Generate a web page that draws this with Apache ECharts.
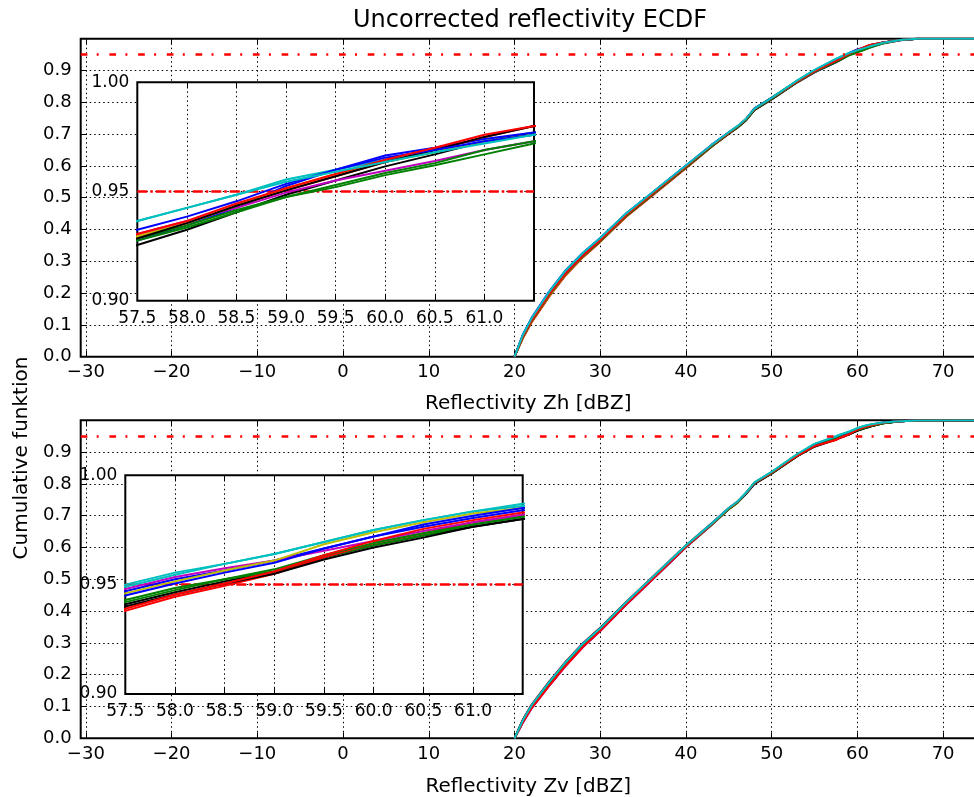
<!DOCTYPE html>
<html>
<head>
<meta charset="utf-8">
<title>Uncorrected reflectivity ECDF</title>
<script src="https://cdn.jsdelivr.net/npm/echarts@6/dist/echarts.min.js"></script>
<style>
  html, body { margin: 0; padding: 0; background: #fff; }
  #chart { width: 974px; height: 797px; }
</style>
</head>
<body>
<div id="chart"></div>
<script>
// reflectivity bins (dBZ) shared by every ECDF curve
const dbzBins = [20, 21, 22, 24, 26, 28, 30, 33, 36, 40, 43, 45, 46, 47, 48, 50, 53, 55,
                 57.5, 58, 58.5, 59, 59.5, 60, 60.5, 61, 61.5, 63, 65, 67, 74];

// ECDF values, horizontal reflectivity Zh
const zh01 = [0, .061,.110,.189,.259,.314,.362, .441,.507,.594,.661,.701,.720,.744,.776,.809,.863,.894, .9255,.9325,.9405,.9485,.955,.9615,.967,.973,.977, .987,.996,.9995, 1];
const zh02 = [0, .071,.122,.203,.273,.327,.373, .450,.514,.601,.666,.706,.724,.747,.779,.812,.865,.896, .9275,.9345,.9425,.9525,.960,.9665,.970,.974,.977, .988,.996,.9995, 1];
const zh03 = [0, .067,.118,.198,.269,.324,.371, .448,.513,.599,.664,.703,.722,.746,.781,.815,.868,.899, .9285,.9345,.9415,.9475,.952,.9575,.962,.967,.972, .985,.995,.9995, 1];
const zh04 = [0, .059,.108,.187,.257,.313,.361, .439,.505,.593,.660,.701,.721,.745,.777,.811,.866,.899, .9295,.9355,.9435,.9505,.957,.9635,.969,.975,.980, .988,.996,.9995, 1];
const zh05 = [0, .068,.119,.200,.270,.325,.371, .448,.512,.599,.665,.704,.723,.745,.778,.813,.868,.901, .9365,.9425,.9485,.9555,.960,.9645,.968,.973,.976, .987,.996,.9995, 1];
const zh06 = [0, .064,.113,.193,.262,.317,.364, .443,.508,.596,.662,.702,.722,.744,.777,.810,.864,.895, .9305,.9365,.9425,.9495,.955,.9595,.964,.969,.973, .986,.995,.9995, 1];
const zh07 = [0, .062,.111,.190,.260,.315,.363, .442,.508,.596,.663,.704,.723,.745,.777,.812,.866,.897, .9295,.9355,.9435,.9515,.958,.9635,.968,.973,.976, .987,.996,.9995, 1];
const zh08 = [0, .066,.116,.197,.267,.322,.369, .446,.511,.597,.663,.702,.721,.743,.776,.810,.865,.898, .9285,.9355,.9435,.9505,.957,.9635,.969,.975,.980, .988,.996,.9995, 1];
const zh09 = [0, .069,.120,.201,.271,.326,.372, .449,.514,.600,.666,.705,.724,.747,.781,.814,.867,.898, .9325,.9385,.9455,.9535,.960,.9655,.969,.973,.976, .987,.996,.9995, 1];
const zh10 = [0, .063,.112,.192,.261,.316,.363, .442,.507,.595,.661,.702,.721,.744,.778,.811,.864,.896, .9275,.9335,.9405,.9475,.953,.9585,.963,.969,.973, .986,.996,.9995, 1];
const zh11 = [0, .065,.114,.194,.263,.318,.366, .445,.510,.598,.664,.704,.724,.747,.779,.813,.866,.898, .9305,.9365,.9445,.9515,.958,.9645,.970,.976,.980, .988,.996,.9995, 1];
const zh12 = [0, .070,.121,.202,.272,.327,.373, .450,.515,.601,.666,.706,.725,.748,.780,.814,.869,.902, .9365,.9425,.9485,.9545,.959,.9635,.968,.972,.976, .987,.996,.9995, 1];

// ECDF values, vertical reflectivity Zv
const zv01 = [0, .052,.096,.165,.230,.289,.338, .420,.497,.601,.671,.721,.741,.770,.801,.834,.888,.919, .941,.9465,.9515,.956,.9625,.968,.9725,.9765,.980, .991,.997,.9995, 1];
const zv02 = [0, .059,.105,.176,.241,.299,.347, .427,.503,.605,.675,.723,.743,.771,.802,.836,.892,.923, .947,.9525,.9565,.961,.9665,.972,.9765,.9805,.984, .992,.997,.9995, 1];
const zv03 = [0, .054,.098,.168,.232,.290,.340, .421,.499,.603,.673,.722,.743,.771,.804,.836,.890,.920, .942,.9475,.9525,.956,.9625,.968,.9725,.9775,.981, .991,.997,.9995, 1];
const zv04 = [0, .060,.106,.177,.242,.299,.348, .428,.505,.607,.676,.724,.744,.771,.802,.834,.888,.918, .938,.9445,.9495,.955,.9625,.969,.9735,.9785,.982, .992,.997,.9995, 1];
const zv05 = [0, .057,.102,.173,.238,.296,.345, .426,.503,.606,.676,.724,.744,.772,.804,.838,.894,.926, .950,.9555,.9595,.964,.9695,.975,.9795,.9835,.986, .993,.997,.9995, 1];
const zv06 = [0, .050,.094,.163,.228,.287,.337, .419,.497,.601,.672,.722,.742,.769,.801,.835,.891,.923, .948,.9535,.9575,.961,.9655,.970,.9745,.9785,.982, .992,.997,.9995, 1];
const zv07 = [0, .055,.100,.171,.236,.294,.343, .423,.500,.602,.672,.720,.740,.769,.803,.837,.893,.924, .946,.9515,.9565,.961,.9685,.974,.9785,.9825,.985, .993,.997,.9995, 1];
const zv08 = [0, .058,.103,.174,.239,.297,.346, .426,.502,.604,.673,.721,.741,.768,.800,.832,.887,.917, .940,.9455,.9505,.955,.9615,.967,.9715,.9765,.980, .991,.997,.9995, 1];
const zv09 = [0, .053,.097,.166,.231,.289,.339, .421,.499,.603,.674,.723,.743,.770,.802,.836,.892,.923, .945,.9505,.9555,.960,.9665,.972,.9775,.9815,.985, .993,.997,.9995, 1];
const zv10 = [0, .056,.101,.172,.237,.295,.344, .424,.501,.603,.673,.721,.741,.770,.802,.834,.889,.919, .943,.9485,.9525,.957,.9635,.969,.9735,.9775,.981, .991,.997,.9995, 1];
const zv11 = [0, .051,.095,.164,.229,.288,.338, .420,.498,.602,.673,.723,.743,.771,.803,.835,.889,.919, .939,.9455,.9505,.956,.9635,.970,.9755,.9795,.983, .992,.997,.9995, 1];
const zv12 = [0, .058,.104,.175,.240,.298,.346, .427,.504,.606,.675,.724,.744,.772,.805,.838,.894,.926, .949,.9545,.9595,.964,.9695,.975,.9795,.9835,.987, .993,.997,.9995, 1];

const zhCurves = [zh01, zh02, zh03, zh04, zh05, zh06, zh07, zh08, zh09, zh10, zh11, zh12];
const zvCurves = [zv01, zv02, zv03, zv04, zv05, zv06, zv07, zv08, zv09, zv10, zv11, zv12];

const threshold = 0.95;
const mainX = [-30.6, 73.8];
const insetX = [57.5, 61.5];
const insetY = [0.90, 1.00];

// matplotlib classic colour cycle (k, b, g, r, c, m, y order so the last drawn is cyan)
const colors = ['#000000', '#0000ff', '#008000', '#ff0000', '#00bfbf', '#bf00bf', '#bfbf00'];
const FONT = 'DejaVu Sans';
const dotted = { color: '#000', width: 1, type: [1.5, 3] };
const minus = s => String(s).replace('-', '\u2212');
const tick = { inside: true, length: 6, lineStyle: { color: '#000' } };
const noLine = { show: false, onZero: false };

const chart = echarts.init(document.getElementById('chart'));

function grids() {
  const common = { show: true, borderColor: '#000', borderWidth: 2, outerBoundsMode: 'none', containLabel: false };
  return [
    Object.assign({ left: 80.7, top: 38.7, width: 895, height: 318, z: 0 }, common),
    Object.assign({ left: 137.3, top: 82.3, width: 396.7, height: 218.4, z: 3, backgroundColor: '#fff' }, common),
    Object.assign({ left: 80.7, top: 420.3, width: 895, height: 318, z: 0 }, common),
    Object.assign({ left: 125.3, top: 475.3, width: 397.4, height: 218.7, z: 3, backgroundColor: '#fff' }, common)
  ];
}

function mainXAxes(g, name, gap) {
  return [{
    type: 'value', gridIndex: g, min: mainX[0], max: mainX[1],
    minInterval: 10, maxInterval: 10, splitNumber: 10,
    axisLine: noLine, axisTick: tick,
    axisLabel: { margin: 7, fontSize: 18, color: '#000', fontFamily: FONT,
                 showMinLabel: false, showMaxLabel: false, formatter: v => minus(v) },
    splitLine: { show: true, lineStyle: dotted },
    name: name, nameLocation: 'middle', nameGap: gap,
    nameTextStyle: { fontSize: 20, color: '#000', fontFamily: FONT }
  }, {
    type: 'value', gridIndex: g, position: 'top', min: mainX[0], max: mainX[1],
    minInterval: 10, maxInterval: 10, splitNumber: 10,
    axisLine: noLine, axisLabel: { show: false }, splitLine: { show: false }, axisTick: tick
  }];
}

function insetXAxes(g) {
  return [{
    type: 'value', gridIndex: g, min: insetX[0], max: insetX[1], interval: 0.5, z: 4,
    axisLine: noLine, axisTick: tick,
    axisLabel: { margin: 9, fontSize: 17, color: '#000', fontFamily: FONT,
                 showMaxLabel: false, formatter: v => v.toFixed(1) },
    splitLine: { show: true, lineStyle: dotted }
  }, {
    type: 'value', gridIndex: g, position: 'top', min: insetX[0], max: insetX[1], interval: 0.5, z: 4,
    axisLine: noLine, axisLabel: { show: false }, splitLine: { show: false }, axisTick: tick
  }];
}

function mainYAxes(g) {
  return [{
    type: 'value', gridIndex: g, min: 0, max: 1, interval: 0.1,
    axisLine: noLine, axisTick: tick,
    axisLabel: { margin: 9, fontSize: 18, color: '#000', fontFamily: FONT,
                 showMaxLabel: false, formatter: v => v.toFixed(1) },
    splitLine: { show: true, lineStyle: dotted }
  }, {
    type: 'value', gridIndex: g, position: 'right', min: 0, max: 1, interval: 0.1,
    axisLine: noLine, axisLabel: { show: false }, splitLine: { show: false }, axisTick: tick
  }];
}

function insetYAxes(g) {
  return [{
    type: 'value', gridIndex: g, min: insetY[0], max: insetY[1], interval: 0.05, z: 4,
    axisLine: noLine, axisTick: tick,
    axisLabel: { margin: 8, fontSize: 17, color: '#000', fontFamily: FONT,
                 formatter: v => v.toFixed(2) },
    splitLine: { show: true, lineStyle: dotted }
  }, {
    type: 'value', gridIndex: g, position: 'right', min: insetY[0], max: insetY[1], interval: 0.05, z: 4,
    axisLine: noLine, axisLabel: { show: false }, splitLine: { show: false }, axisTick: tick
  }];
}

function curveSeries(curves, axis, inset) {
  const out = curves.map((ys, k) => ({
    type: 'line', xAxisIndex: axis, yAxisIndex: axis,
    data: dbzBins.map((x, j) => [x, ys[j]]),
    symbol: 'none', showSymbol: false, clip: true, silent: true,
    z: inset ? 5 : 2,
    lineStyle: { width: 2, color: colors[k % colors.length] }
  }));
  out[0].markLine = {
    silent: true, symbol: 'none', label: { show: false },
    lineStyle: inset
      ? { color: '#ff0000', width: 2.5, type: [10, 3, 2.5, 3] }
      : { color: '#ff0000', width: 2.5, type: [6.7, 9.3, 2, 10.7] },
    data: [{ yAxis: threshold }]
  };
  return out;
}

const option = {
  animation: false,
  textStyle: { fontFamily: FONT },
  grid: grids(),
  xAxis: [].concat(
    mainXAxes(0, 'Reflectivity Zh [dBZ]', 37),
    insetXAxes(1),
    mainXAxes(2, 'Reflectivity Zv [dBZ]', 38),
    insetXAxes(3)
  ),
  yAxis: [].concat(mainYAxes(0), insetYAxes(1), mainYAxes(2), insetYAxes(3)),
  graphic: [
    { type: 'text', x: 530, y: 21, z: 10,
      style: { text: 'Uncorrected reflectivity ECDF', fontSize: 24, fontFamily: FONT,
               fill: '#000', textAlign: 'center', textVerticalAlign: 'middle' } },
    { type: 'text', x: 21.7, y: 458, rotation: Math.PI / 2, z: 10,
      style: { text: 'Cumulative funktion', fontSize: 20, fontFamily: FONT,
               fill: '#000', textAlign: 'center', textVerticalAlign: 'middle' } }
  ],
  series: [].concat(
    curveSeries(zhCurves, 0, false),
    curveSeries(zhCurves, 2, true),
    curveSeries(zvCurves, 4, false),
    curveSeries(zvCurves, 6, true)
  )
};

chart.setOption(option);
</script>
</body>
</html>
